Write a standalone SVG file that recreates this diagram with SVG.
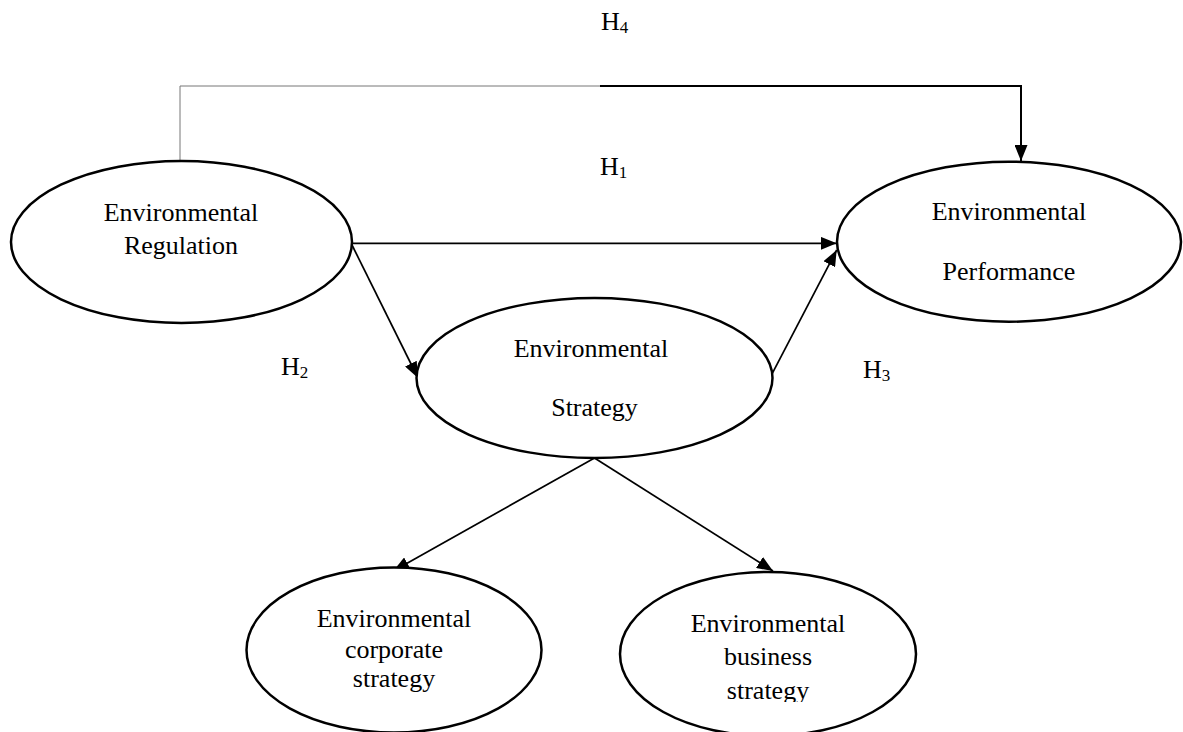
<svg xmlns="http://www.w3.org/2000/svg" width="1183" height="732" viewBox="0 0 1183 732">
<style>
text{font-family:"Liberation Serif","Times New Roman",serif;font-size:26px;fill:#000}
.n{text-anchor:middle}
.node ellipse{fill:#fff;stroke:#000;stroke-width:2.5}
.c{fill:none;stroke:#000;stroke-width:1.7}
.sub{font-size:17px}
</style>
<defs>
<marker id="ah" markerUnits="userSpaceOnUse" markerWidth="16" markerHeight="13" refX="16" refY="6.5" orient="auto" viewBox="0 0 16 13">
<path d="M0,0 L16,6.5 L0,13 z" fill="#000"/>
</marker>
<clipPath id="clipB"><rect x="600" y="560" width="340" height="142"/></clipPath>
</defs>
<g id="connectors">
<path class="c" d="M180,161 V86 H600" stroke="#777" style="stroke:#777;stroke-width:1"/>
<path class="c" d="M600,86 H1021 V161" style="stroke-width:2" marker-end="url(#ah)"/>
<path class="c" d="M352,243.3 H836.7" marker-end="url(#ah)"/>
<path class="c" d="M352,245 L418,378" marker-end="url(#ah)"/>
<path class="c" d="M772.3,373.3 L836.7,250" marker-end="url(#ah)"/>
<path class="c" d="M594.5,458 L393.3,571" marker-end="url(#ah)"/>
<path class="c" d="M594.5,458 L773,571" marker-end="url(#ah)"/>
</g>
<g id="regulation" class="node">
<ellipse cx="181.5" cy="242" rx="170.5" ry="81"/>
<text class="n" x="181" y="221">Environmental</text>
<text class="n" x="181" y="254">Regulation</text>
</g>
<g id="performance" class="node">
<ellipse cx="1009" cy="241.7" rx="172" ry="80"/>
<text class="n" x="1009" y="220">Environmental</text>
<text class="n" x="1009" y="280">Performance</text>
</g>
<g id="strategy" class="node">
<ellipse cx="594.5" cy="378" rx="178" ry="80"/>
<text class="n" x="591" y="357">Environmental</text>
<text class="n" x="594.5" y="416">Strategy</text>
</g>
<g id="corporate" class="node">
<ellipse cx="394" cy="650" rx="147.5" ry="82.5"/>
<text class="n" x="394" y="627">Environmental</text>
<text class="n" x="394" y="658">corporate</text>
<text class="n" x="394" y="687">strategy</text>
</g>
<g id="business" class="node">
<ellipse cx="768" cy="654" rx="148" ry="82"/>
<text class="n" x="768" y="632">Environmental</text>
<text class="n" x="768" y="665">business</text>
<text class="n" x="768" y="699" clip-path="url(#clipB)">strategy</text>
</g>
<g id="labels">
<text x="601" y="30">H<tspan class="sub" dy="3">4</tspan></text>
<text x="600" y="175">H<tspan class="sub" dy="3">1</tspan></text>
<text x="281" y="375">H<tspan class="sub" dy="3">2</tspan></text>
<text x="863" y="378">H<tspan class="sub" dy="3">3</tspan></text>
</g>
</svg>
